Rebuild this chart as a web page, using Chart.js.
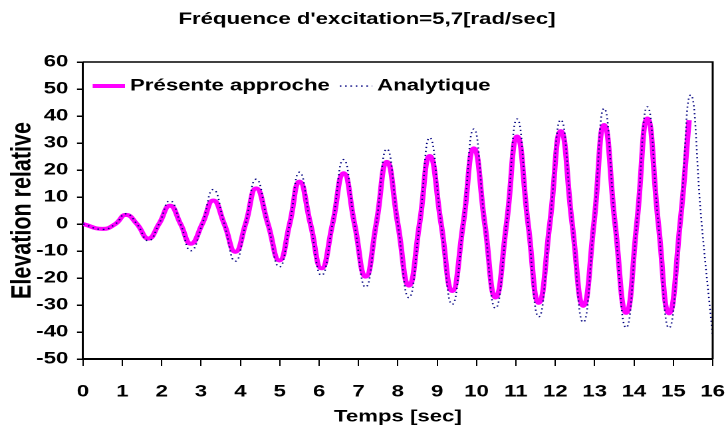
<!DOCTYPE html>
<html>
<head>
<meta charset="utf-8">
<script src="https://cdn.jsdelivr.net/npm/chart.js@4/dist/chart.umd.min.js"></script>
<style>
html,body{margin:0;padding:0;background:#fff;overflow:hidden;width:726px;height:428px;}
#wrap{position:absolute;left:0;top:0;width:546px;height:428px;transform:scaleX(1.32967);transform-origin:0 0;}
</style>
</head>
<body>
<div id="wrap"><canvas id="c"></canvas></div>
<script>
const chartTitle = "Fréquence d'excitation=5,7[rad/sec]";
const xTitle = "Temps [sec]";
const yTitle = "Elevation relative";
const seriesNames = ["Présente approche", "Analytique"];

// Présente approche (t [sec], elevation)
const timesApproche = [0, 0.50, 0.82, 1.09, 1.37, 1.66, 1.93, 2.21, 2.48, 2.74, 3.03, 3.31, 3.59, 3.87, 4.13, 4.40, 4.70, 4.99, 5.25, 5.50, 5.78, 6.06, 6.34, 6.62, 6.90, 7.18, 7.45, 7.72, 8.00, 8.28, 8.55, 8.81, 9.10, 9.38, 9.66, 9.93, 10.21, 10.48, 10.76, 11.03, 11.31, 11.58, 11.86, 12.14, 12.43, 12.71, 12.98, 13.24, 13.52, 13.80, 14.07, 14.34, 14.62, 14.89, 15.17, 15.40];
const valuesApproche = [0, -1.8, 0, 3.4, 0, -5.4, 0, 6.8, 0, -7.3, 0, 8.7, 0, -10.3, 0, 13.2, 0, -13.5, 0, 15.7, 0, -16.4, 0, 18.8, 0, -19.5, 0, 23.0, 0, -22.8, 0, 25.2, 0, -24.8, 0, 28.0, 0, -27.2, 0, 32.4, 0, -29.2, 0, 34.4, 0, -30.3, 0, 36.7, 0, -32.9, 0, 39.1, 0, -33.1, 0, 38.5];

// Analytique (t [sec], elevation)
const timesAnalytique = [0, 0.50, 0.82, 1.09, 1.37, 1.66, 1.93, 2.21, 2.48, 2.74, 3.03, 3.31, 3.59, 3.87, 4.13, 4.40, 4.70, 4.99, 5.25, 5.50, 5.78, 6.06, 6.34, 6.62, 6.90, 7.18, 7.45, 7.72, 8.00, 8.28, 8.55, 8.81, 9.10, 9.38, 9.66, 9.93, 10.21, 10.48, 10.76, 11.03, 11.31, 11.58, 11.86, 12.14, 12.43, 12.71, 12.98, 13.24, 13.52, 13.80, 14.07, 14.34, 14.62, 14.89, 15.17, 15.44, 15.72, 16.00];
const valuesAnalytique = [0, -2.0, 0, 3.8, 0, -6.2, 0, 8.6, 0, -9.9, 0, 12.8, 0, -13.8, 0, 16.6, 0, -15.9, 0, 19.2, 0, -19.0, 0, 23.9, 0, -23.4, 0, 27.8, 0, -27.3, 0, 32.0, 0, -29.8, 0, 35.2, 0, -31.2, 0, 38.9, 0, -34.4, 0, 38.6, 0, -36.4, 0, 42.8, 0, -38.4, 0, 43.4, 0, -38.5, 0, 47.8, 0, -41.5];

const xMin = 0, xMax = 16, xStep = 1;
const yMin = -50, yMax = 60, yStep = 10;

const FAMILY = "'Liberation Sans', Arial, sans-serif";
const FS = 16.7;
const FONT = 'bold ' + FS + 'px ' + FAMILY;

const toPoints = (ts, vs) => ts.map((t, i) => ({x: t, y: vs[i]}));

// plot frame (top and right edges) + legend inside the plot area
const frameAndLegend = {
  id: 'frameAndLegend',
  afterDatasetsDraw(chart) {
    const a = chart.chartArea, ctx = chart.ctx;
    ctx.save();
    ctx.strokeStyle = '#000';
    ctx.lineWidth = 1.5;
    ctx.beginPath();
    ctx.moveTo(a.left, a.top);
    ctx.lineTo(a.right, a.top);
    ctx.lineTo(a.right, a.bottom);
    ctx.stroke();

    // legend
    const y = a.top + 24;
    let x = a.left + 7.3;
    const sampleLen = 24.3, gapText = 3.8, gapItem = 7.5;
    ctx.font = FONT;
    ctx.textBaseline = 'middle';
    ctx.textAlign = 'left';
    chart.data.datasets.forEach(ds => {
      ctx.save();
      ctx.strokeStyle = ds.borderColor;
      ctx.lineWidth = ds.borderWidth;
      ctx.setLineDash(ds.borderDash || []);
      ctx.beginPath();
      ctx.moveTo(x, y);
      ctx.lineTo(x + sampleLen, y);
      ctx.stroke();
      ctx.restore();
      x += sampleLen + gapText;
      ctx.fillStyle = '#000';
      ctx.fillText(ds.label, x, y);
      x += ctx.measureText(ds.label).width + gapItem;
    });
    ctx.restore();
  }
};

new Chart(document.getElementById('c'), {
  type: 'line',
  data: {
    datasets: [
      {
        label: seriesNames[0],
        data: toPoints(timesApproche, valuesApproche),
        borderColor: '#FF00FF',
        backgroundColor: '#FF00FF',
        borderWidth: 4,
        pointRadius: 0,
        tension: 0.5,
        fill: false,
        order: 1
      },
      {
        label: seriesNames[1],
        data: toPoints(timesAnalytique, valuesAnalytique),
        borderColor: '#000080',
        backgroundColor: '#000080',
        borderWidth: 1.3,
        borderDash: [1.2, 2.8],
        pointRadius: 0,
        tension: 0.5,
        fill: false,
        order: 0
      }
    ]
  },
  options: {
    responsive: true,
    maintainAspectRatio: false,
    animation: false,
    devicePixelRatio: 2,
    layout: {padding: {left: 6, right: 0, top: 0, bottom: 0}},
    plugins: {
      title: {
        display: true,
        text: chartTitle,
        color: '#000',
        font: {family: FAMILY, size: FS, weight: 'bold'},
        padding: {top: 9.4, bottom: 32.6}
      },
      legend: {display: false},
      tooltip: {enabled: false}
    },
    scales: {
      x: {
        type: 'linear',
        min: xMin, max: xMax,
        afterFit: (s) => { s.height = 69; s.paddingLeft = 0; s.paddingRight = 10; },
        ticks: {stepSize: xStep, color: '#000', padding: 16, maxRotation: 0,
                font: {family: FAMILY, size: FS, weight: 'bold'}},
        grid: {drawOnChartArea: false, drawTicks: true, tickLength: 7, color: '#000', lineWidth: 1},
        border: {display: true, color: '#000', width: 2},
        title: {display: true, text: xTitle, color: '#000', padding: {top: 0, bottom: 1},
                font: {family: FAMILY, size: FS, weight: 'bold'}}
      },
      y: {
        type: 'linear',
        min: yMin, max: yMax,
        afterFit: (s) => { s.width = 56.4; s.paddingTop = 0; s.paddingBottom = 0; },
        ticks: {stepSize: yStep, color: '#000', padding: 6.5,
                font: {family: FAMILY, size: FS, weight: 'bold'}},
        grid: {drawOnChartArea: false, drawTicks: true, tickLength: 4.5, color: '#000', lineWidth: 1.5},
        border: {display: true, color: '#000', width: 1.5},
        title: {display: true, text: yTitle, color: '#000', padding: {top: 0.5, bottom: 0},
                font: {family: FAMILY, size: 21.5, weight: 'bold', lineHeight: 1.0}}
      }
    }
  },
  plugins: [frameAndLegend]
});
</script>
</body>
</html>
